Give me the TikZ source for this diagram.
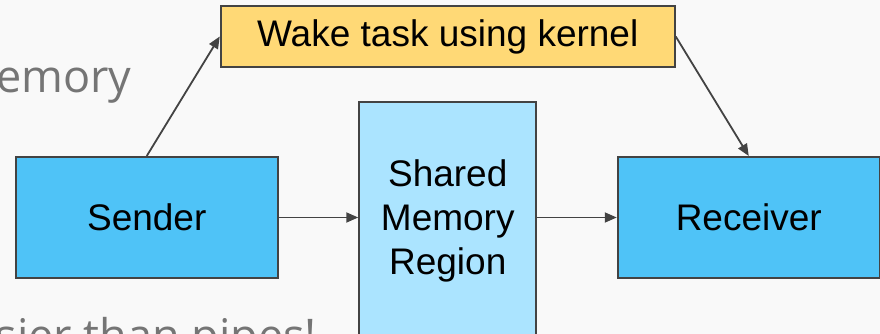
\documentclass[tikz,border=0pt]{standalone}
\usepackage{fontspec}
\setmainfont{Liberation Sans}
\newfontfamily\slidefont{Open Sans}
\usetikzlibrary{positioning,arrows.meta}

\definecolor{paper}{HTML}{F9F9F9}
\definecolor{edgegray}{HTML}{434343}
\definecolor{slidegray}{HTML}{757575}
\definecolor{skyblue}{HTML}{4FC3F7}
\definecolor{paleblue}{HTML}{ABE4FF}
\definecolor{sand}{HTML}{FFD976}

\tikzset{
  block/.style={draw=edgegray,line width=2pt,inner sep=0pt,align=center,
                font=\fontsize{37}{44}\selectfont},
  flow/.style={color=edgegray,line width=1.8pt,-{Triangle[length=12pt,width=10pt]}},
  backtext/.style={inner sep=0pt,text=slidegray,
                   font=\slidefont\fontsize{45}{52}\selectfont}
}

\begin{document}
\begin{tikzpicture}[x=1pt,y=1pt,node distance=301pt,on grid]
    \useasboundingbox (0,0) rectangle (880,334);
    \clip (0,0) rectangle (880,334);
    \fill[paper] (0,0) rectangle (880,334);

    % slide text behind the diagram
    \node[backtext,anchor=base west] (memtxt) at (-4,241) {emory};
    \node[backtext,anchor=base east] (pipetxt) at (317,-18) {sier than pipes!};

    \node[block,fill=skyblue,minimum width=262pt,minimum height=121pt] (sender) at (146.75,116.5) {Sender};
    \node[block,fill=paleblue,minimum width=177pt,minimum height=236pt] (shared) [right of=sender,yshift=-3pt] {Shared\\Memory\\Region};
    \node[block,fill=skyblue,minimum width=262pt,minimum height=121pt] (receiver) [right of=sender,node distance=602pt] {Receiver};
    \node[block,fill=sand,minimum width=454pt,minimum height=61pt] (wake) [above of=sender,xshift=301pt,node distance=181pt] {Wake task using kernel};

    \path[flow] (sender) edge (sender -| shared.west)
                (sender -| shared.east) edge (receiver)
                (sender.north) edge (wake.west)
                (wake.east) edge (receiver.north);
\end{tikzpicture}
\end{document}
